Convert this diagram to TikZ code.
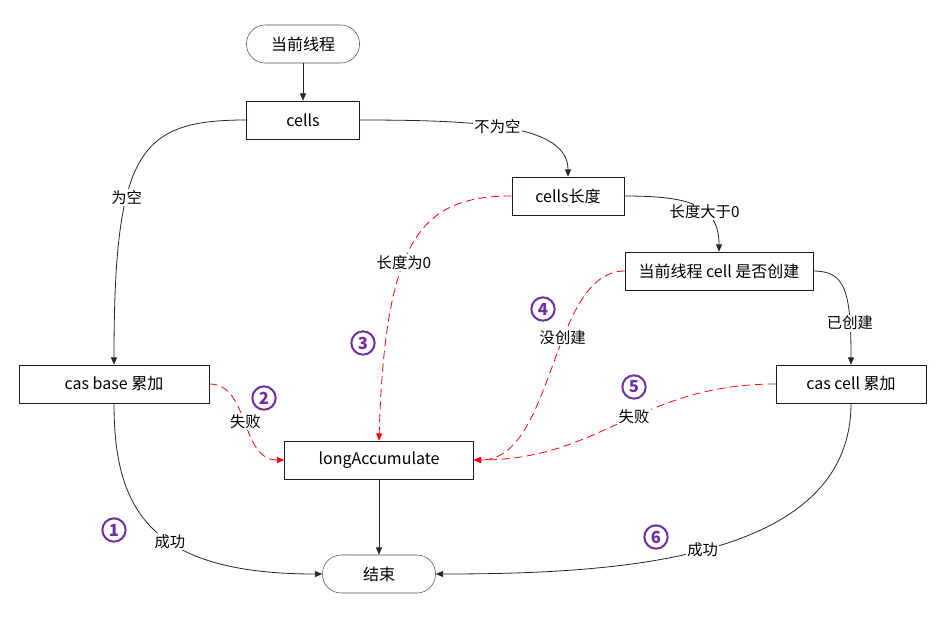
\documentclass[tikz,border=0pt]{standalone}
\usepackage{fontspec}
\setmainfont{Noto Sans CJK SC}
\usetikzlibrary{arrows.meta}
\definecolor{boxline}{RGB}{24,24,64}
\definecolor{pillline}{RGB}{72,72,110}
\definecolor{stepnum}{RGB}{112,48,160}
\tikzset{
  flowbox/.style={draw=boxline, fill=white, minimum width=#1, minimum height=28.5pt, inner sep=0pt, font=\fontsize{12}{14}\selectfont},
  pill/.style={draw=pillline, rounded corners=14pt, minimum width=84.75pt, minimum height=28.5pt, font=\fontsize{12}{14}\selectfont},
  flow/.style={-{Triangle[length=5.5pt,width=4.5pt]}, line width=0.6pt, color=black!85},
  failflow/.style={-{Triangle[length=5.5pt,width=4.5pt]}, line width=0.6pt, color=red, dash pattern=on 6pt off 3.5pt},
  edgelabel/.style={fill=white, text=black, inner sep=1pt, font=\fontsize{11.5}{13}\selectfont},
  stepno/.style={circle, draw=stepnum, line width=1.5pt, text=stepnum, fill=white, font=\fontsize{12.5}{14}\selectfont\bfseries, minimum size=17.5pt, inner sep=0pt}
}
\begin{document}
\begin{tikzpicture}[x=0.75pt, y=-0.75pt]
  \useasboundingbox (0, 0) rectangle (945, 618);
  % nodes
  \node [pill] (start) at (303, 44) {当前线程};
  \node [flowbox=84.75pt] (cells) at (303, 120) {cells};
  \node [flowbox=84pt] (cellslen) at (568, 196) {cells长度};
  \node [flowbox=141pt] (created) at (719, 271) {当前线程 cell 是否创建};
  \node [flowbox=142.5pt] (casbase) at (114, 384) {cas base 累加};
  \node [flowbox=112.5pt] (cascell) at (851, 384) {cas cell 累加};
  \node [flowbox=141.75pt] (longacc) at (379, 460) {longAccumulate};
  \node [pill] (finish) at (379, 574) {结束};

  % normal flow
  \draw [flow] (start) -- (cells);
  \draw [flow] (cells.west) .. controls (140, 120) and (114, 150) .. (casbase.north) node [edgelabel, pos=0.64] {为空};
  \draw [flow] (cells.east) .. controls (480, 120) and (568, 125) .. (cellslen.north) node [edgelabel, pos=0.45] {不为空};
  \draw [flow] (cellslen.east) .. controls (690, 196) and (719, 205) .. (created.north) node [edgelabel, pos=0.6] {长度大于0};
  \draw [flow] (created.east) .. controls (845, 271) and (851, 290) .. (cascell.north) node [edgelabel, pos=0.78] {已创建};
  \draw [flow] (longacc) -- (finish);
  \draw [flow] (casbase.south) .. controls (114, 510) and (150, 574) .. (finish.west) node [edgelabel, pos=0.58] {成功};
  \draw [flow] (cascell.south) .. controls (851, 560) and (620, 574) .. (finish.east) node [edgelabel, pos=0.52] {成功};

  % failure flow
  \draw [failflow] (cellslen.west) .. controls (420, 196) and (385, 240) .. (longacc.north) node [edgelabel, pos=0.58] {长度为0};
  \draw [failflow] (created.west) .. controls (550, 271) and (555, 460) .. (longacc.east) node [edgelabel, pos=0.4] {没创建};
  \draw [failflow] (cascell.west) .. controls (640, 384) and (600, 460) .. (longacc.east) node [edgelabel, pos=0.45] {失败};
  \draw [failflow] (casbase.east) .. controls (250, 384) and (240, 460) .. (longacc.west) node [edgelabel, pos=0.5] {失败};

  % step numbers
  \node [stepno] (one) at (114, 530) {1};
  \node [stepno] (two) at (264, 398) {2};
  \node [stepno] (three) at (363, 343) {3};
  \node [stepno] (four) at (543, 309) {4};
  \node [stepno] (five) at (634, 387) {5};
  \node [stepno] (six) at (656, 537) {6};
\end{tikzpicture}
\end{document}
